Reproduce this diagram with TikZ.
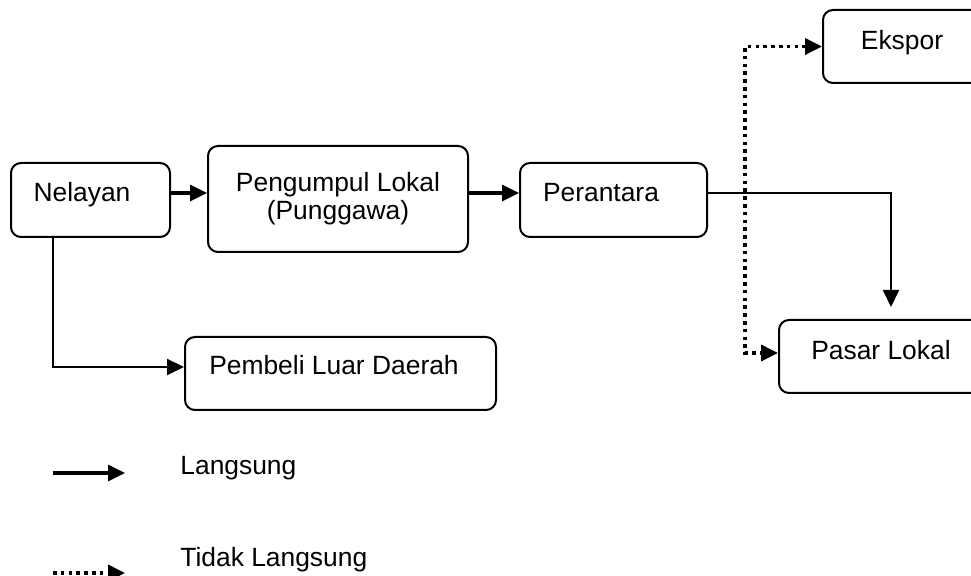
\documentclass[tikz,border=0pt]{standalone}
\usepackage{fontspec}
\setmainfont{Liberation Sans}
\usetikzlibrary{arrows.meta,positioning}
\tikzset{
	box/.style={draw,line width=1pt,rounded corners=5pt,minimum height=37pt},
	lbl/.style={text height=9.5pt,text depth=2.8pt},
	lang/.style={line width=1.6pt,->},
	tipis/.style={line width=1pt,->},
	tdk/.style={line width=1.8pt,dash pattern=on 1.8pt off 2.1pt},
	>={Triangle[length=8.5pt,width=8pt]}
}
\begin{document}
\begin{tikzpicture}[x=0.5pt,y=-0.5pt,font=\fontsize{13.2pt}{14pt}\selectfont]
			\useasboundingbox (0,0) rectangle (971,576);
			\clip (0,0) rectangle (971,576);
			% kotak
			\node[box,minimum width=79.5pt,label={[lbl,xshift=-4.25pt,yshift=2.35pt]center:Nelayan}] (nelayan) at (90.5,200) {};
			\node[box,minimum width=130pt,minimum height=53pt,label={[align=center]center:Pengumpul Lokal\\(Punggawa)}] (pengumpul) at (338,199) {};
			\node[box,minimum width=93.5pt,label={[lbl,xshift=-6.25pt,yshift=2.35pt]center:Perantara}] (perantara) at (613.5,200) {};
			\node[box,minimum width=98.5pt,minimum height=36.5pt,label={[lbl,xshift=-9.75pt,yshift=1.6pt]center:Ekspor}] (ekspor) at (921.5,46.5) {};
			\node[box,minimum width=110.5pt,minimum height=36.5pt,label={[lbl,xshift=-4.25pt,yshift=1.6pt]center:Pasar Lokal}] (pasar) at (889.5,356.5) {};
			\node[box,minimum width=155.5pt,minimum height=36.5pt,label={[lbl,xshift=-3.25pt,yshift=2.6pt]center:Pembeli Luar Daerah}] (pembeli) at (340.5,373.5) {};
			
			% alur langsung
			\coordinate (p1) at ([yshift=3.5pt]nelayan.east);
			\draw[lang] (p1) -- (p1 -| pengumpul.west);
			\draw[lang] (pengumpul.east |- p1) -- (p1 -| perantara.west);
			\draw[tipis,shorten >=6pt] (perantara.east |- p1) -| ([xshift=0.75pt]pasar.north);
			\draw[tipis] ([xshift=-18.75pt]nelayan.south) |- ([yshift=3.25pt]pembeli.west);
			
			% alur tidak langsung
			\coordinate (cabang) at (745,200);
			\draw[tdk,<->] (ekspor.west) -| (cabang) |- ([yshift=1.75pt]pasar.west);
			
			% keterangan
			\coordinate (k1) at (53,473);
			\coordinate (k2) at (125,473);
			\draw[lang] (k1) -- (k2);
			\node[anchor=base west,inner sep=0pt] (langsung) at (180,475) {Langsung};
			\coordinate (k3) at (53,573);
			\coordinate (k4) at (125,573);
			\draw[tdk,->] (k3) -- (k4);
			\node[anchor=base west,inner sep=0pt] (tidak) at (180,567) {Tidak Langsung};
		\end{tikzpicture}
\end{document}
